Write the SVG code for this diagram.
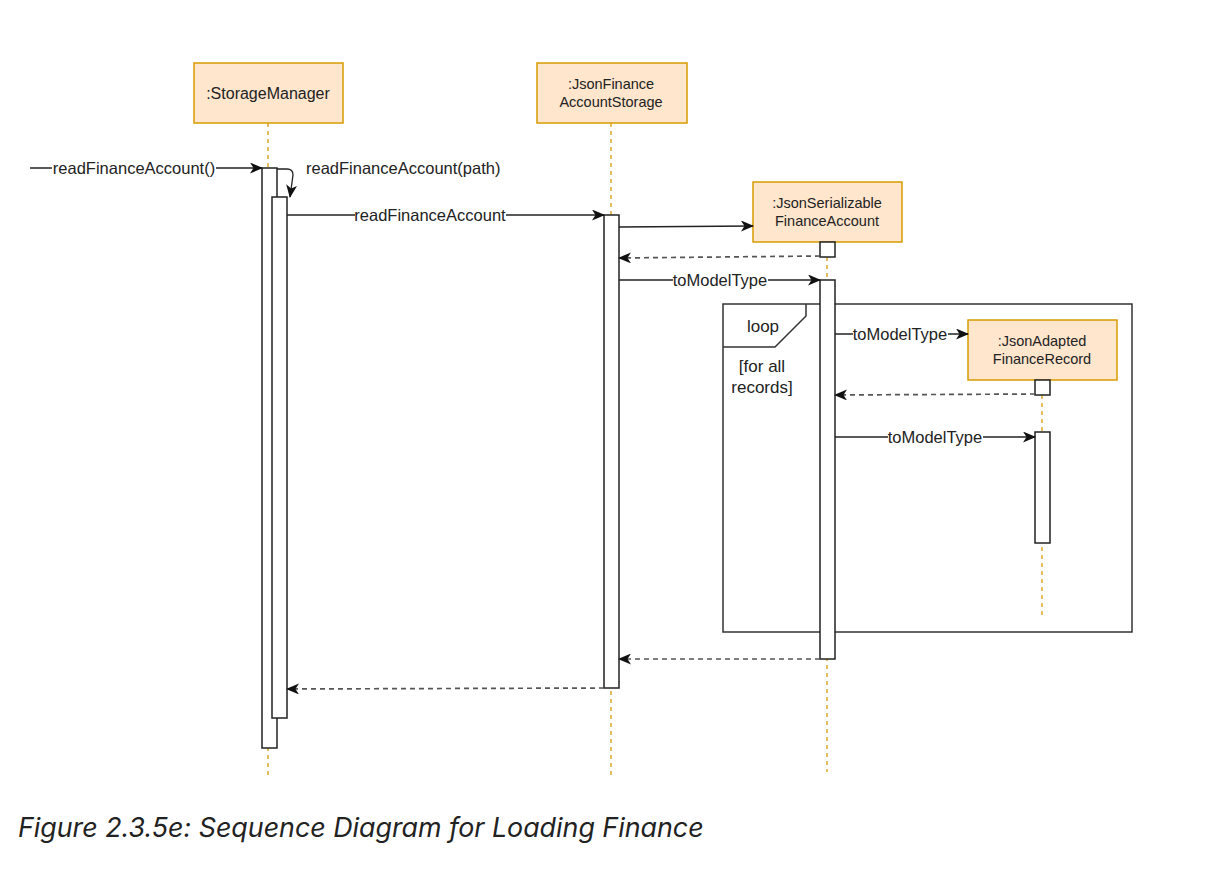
<svg xmlns="http://www.w3.org/2000/svg" width="1222" height="892" viewBox="0 0 1222 892">
<style>
.box{fill:#ffe6cc;stroke:#d79b00;stroke-width:1.5}
.life{stroke:#e0a82e;stroke-width:1.5;stroke-dasharray:4 4;fill:none}
.act{fill:#fff;stroke:#222;stroke-width:1.5}
.msg{stroke:#222;stroke-width:1.3;fill:none;marker-end:url(#arr)}
.ret{stroke:#555;stroke-width:1.7;stroke-dasharray:5 4;fill:none;marker-end:url(#arr)}
.t{font-family:"Liberation Sans",Arial,sans-serif;fill:#222;text-anchor:middle}
.s14{font-size:14.5px}
.s16{font-size:16px}
.lbl{font-family:"Liberation Sans",Arial,sans-serif;font-size:16.5px;fill:#222;text-anchor:middle}
.bg{fill:#fff}
.frame{fill:none;stroke:#333;stroke-width:1.5}
</style>
<defs>
<marker id="arr" markerWidth="13" markerHeight="11" refX="12" refY="5.5" orient="auto" markerUnits="userSpaceOnUse">
<path d="M0,0 L13,5.5 L0,11 L3.5,5.5 z" fill="#111"/>
</marker>
</defs>
<rect width="1222" height="892" fill="#fff"/>

<g id="frame-loop">
<rect class="frame" x="723" y="304" width="409" height="328"/>
<path class="frame" d="M723 347 H775 L806 316 V304"/>
<text class="t" x="763" y="332" style="font-size:17px">loop</text>
<text class="t" x="762" y="372" style="font-size:17px">[for all</text>
<text class="t" x="762" y="393" style="font-size:17px">records]</text>
</g>

<g id="lifelines">
<line class="life" x1="268" y1="123" x2="268" y2="778"/>
<line class="life" x1="611" y1="123" x2="611" y2="778"/>
<line class="life" x1="827" y1="257" x2="827" y2="772"/>
<line class="life" x1="1042" y1="395" x2="1042" y2="615"/>
</g>

<g id="StorageManager">
<rect class="box" x="194" y="63" width="149" height="60"/>
<text class="t s16" x="268" y="99">:StorageManager</text>
<rect class="act" x="262" y="168" width="15" height="580"/>
<rect class="act" x="272" y="197" width="15" height="521"/>
</g>

<g id="JsonFinanceAccountStorage">
<rect class="box" x="537" y="63" width="150" height="60"/>
<text class="t s14" x="611" y="89">:JsonFinance</text>
<text class="t s14" x="611" y="107">AccountStorage</text>
<rect class="act" x="604" y="215" width="15" height="473"/>
</g>

<g id="JsonSerializableFinanceAccount">
<rect class="box" x="753" y="182" width="149" height="60"/>
<text class="t s14" x="827" y="208">:JsonSerializable</text>
<text class="t s14" x="827" y="226">FinanceAccount</text>
<rect class="act" x="820" y="242" width="15" height="15"/>
<rect class="act" x="820" y="280" width="15" height="379"/>
</g>

<g id="JsonAdaptedFinanceRecord">
<rect class="box" x="968" y="320" width="149" height="60"/>
<text class="t s14" x="1042" y="346">:JsonAdapted</text>
<text class="t s14" x="1042" y="364">FinanceRecord</text>
<rect class="act" x="1035" y="380" width="15" height="15"/>
<rect class="act" x="1035" y="432" width="15" height="111"/>
</g>

<g id="connectors">
<line class="msg" x1="30" y1="168" x2="262" y2="168"/>
<rect class="bg" x="52" y="159" width="164" height="18"/>
<text class="lbl" x="134" y="174">readFinanceAccount()</text>

<path class="msg" d="M277 169 H287 Q293 169 293 175 L290 197"/>
<text class="lbl" x="306" y="174" style="text-anchor:start">readFinanceAccount(path)</text>

<line class="msg" x1="287" y1="215" x2="604" y2="215"/>
<rect class="bg" x="355" y="206" width="151" height="18"/>
<text class="lbl" x="430" y="221">readFinanceAccount</text>

<line class="msg" x1="619" y1="227" x2="753" y2="226"/>

<line class="ret" x1="820" y1="256" x2="619" y2="258"/>

<line class="msg" x1="619" y1="280" x2="820" y2="280"/>
<rect class="bg" x="673" y="271" width="95" height="18"/>
<text class="lbl" x="720" y="286">toModelType</text>

<line class="msg" x1="835" y1="334" x2="968" y2="334"/>
<rect class="bg" x="853" y="325" width="95" height="18"/>
<text class="lbl" x="900" y="340">toModelType</text>

<line class="ret" x1="1035" y1="394" x2="835" y2="395"/>

<line class="msg" x1="835" y1="437" x2="1035" y2="437"/>
<rect class="bg" x="888" y="428" width="95" height="18"/>
<text class="lbl" x="935" y="443">toModelType</text>

<line class="ret" x1="820" y1="659" x2="619" y2="659"/>
<line class="ret" x1="604" y1="688" x2="287" y2="689"/>
</g>

<text x="18" y="837" style="font-family:Inter,'Noto Sans',sans-serif;font-style:italic;font-size:26.8px;fill:#222">Figure 2.3.5e: Sequence Diagram for Loading Finance</text>
</svg>
